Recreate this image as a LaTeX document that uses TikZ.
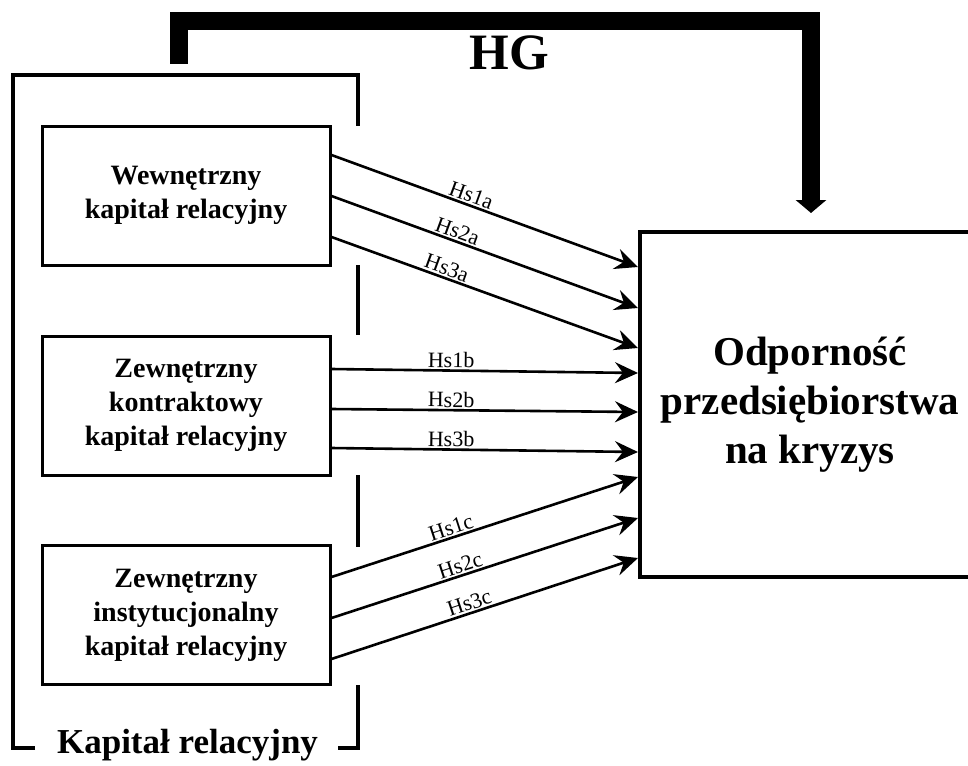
\documentclass[tikz,border=0pt]{standalone}
\usepackage{fontspec}
\setmainfont{Liberation Serif}
\usetikzlibrary{arrows.meta,calc}
\begin{document}
\begin{tikzpicture}[x=1pt,y=-1pt,
  capbox/.style={draw, line width=3pt, minimum width=288pt, minimum height=139pt,
    align=center, inner sep=0pt, font=\bfseries\fontsize{28}{34}\selectfont},
  outbox/.style={draw, line width=4pt, minimum width=340pt, minimum height=345pt,
    align=center, inner sep=0pt, font=\bfseries\fontsize{41}{49}\selectfont},
  hyp/.style={line width=2.6pt, -{Stealth[length=23pt,width=21pt,inset=8pt]}},
  hlab/.style={sloped, above, inner sep=1.5pt, font=\fontsize{22}{22}\selectfont},
  brk/.style={line width=4pt}
]
\clip (0,0) rectangle (968,765);
\fill[white] (0,0) rectangle (968,765);

% boxes
\node[capbox] (b1) at (186,195.5) {Wewnętrzny\\kapitał relacyjny};
\node[capbox] (b2) at (186,405.5) {Zewnętrzny\\kontraktowy\\kapitał relacyjny};
\node[capbox] (b3) at (186,615) {Zewnętrzny\\instytucjonalny\\kapitał relacyjny};
\node[outbox] (out) at (810,404.5) {Odporność\\przedsiębiorstwa\\na kryzys};

% outer bracket
\draw[brk] (35,748) -- (13,748) -- (13,75) -- (358,75) -- (358,126);
\draw[brk] (358,265) -- (358,335);
\draw[brk] (358,475) -- (358,547);
\draw[brk] (358,685) -- (358,748) -- (338,748);
\node[anchor=base, font=\bfseries\fontsize{35}{35}\selectfont] (kr) at (187.5,753) {Kapitał relacyjny};

% HG
\coordinate (hgstart) at (179,64);
\coordinate (hgend) at (811,213);
\draw[line width=18pt, -{Triangle[length=13pt,width=30pt]}] (hgstart) -- (179,21) -- (811,21) -- (hgend);
\node[font=\bfseries\fontsize{51}{51}\selectfont] (hg) at (509,53) {HG};

% hypotheses a
\draw[hyp] ($(b1.east)+(0,-40.5)$) -- node[hlab, pos=0.445] {Hs1a} ($(out.west)+(0,-137.5)$);
\draw[hyp] ($(b1.east)+(0,0.5)$) -- node[hlab, pos=0.40] {Hs2a} ($(out.west)+(0,-96.5)$);
\draw[hyp] ($(b1.east)+(0,41.5)$) -- node[hlab, pos=0.365] {Hs3a} ($(out.west)+(0,-56.5)$);
% hypotheses b
\draw[hyp] ($(b2.east)+(0,-36.5)$) -- node[hlab, pos=0.39] {Hs1b} ($(out.west)+(0,-31.5)$);
\draw[hyp] ($(b2.east)+(0,3.5)$) -- node[hlab, pos=0.39] {Hs2b} ($(out.west)+(0,7.5)$);
\draw[hyp] ($(b2.east)+(0,42.5)$) -- node[hlab, pos=0.39] {Hs3b} ($(out.west)+(0,47.5)$);
% hypotheses c
\draw[hyp] ($(b3.east)+(0,-38)$) -- node[hlab, pos=0.40] {Hs1c} ($(out.west)+(0,72.5)$);
\draw[hyp] ($(b3.east)+(0,3)$) -- node[hlab, pos=0.43] {Hs2c} ($(out.west)+(0,113.5)$);
\draw[hyp] ($(b3.east)+(0,44)$) -- node[hlab, pos=0.46] {Hs3c} ($(out.west)+(0,153.5)$);
\end{tikzpicture}
\end{document}
